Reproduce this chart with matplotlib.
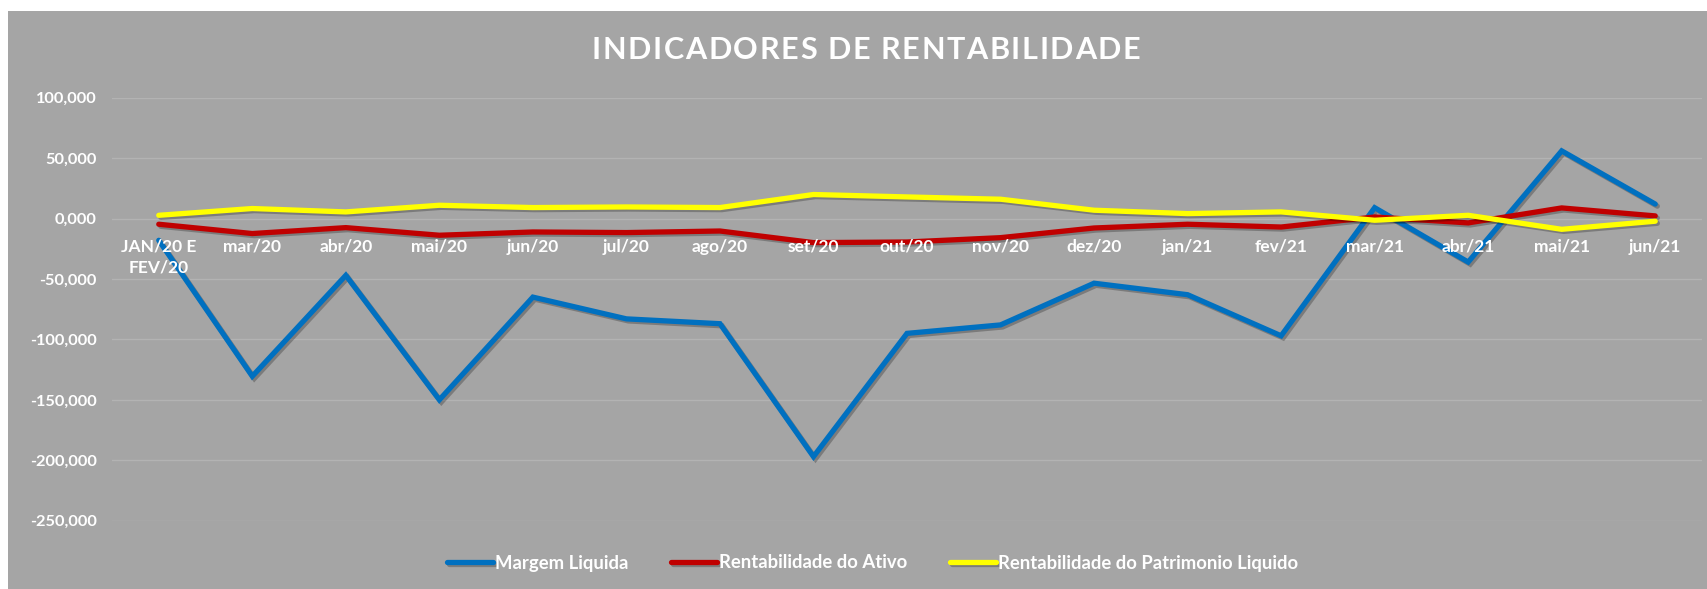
import matplotlib
matplotlib.use("Agg")
import matplotlib.pyplot as plt
import matplotlib.patheffects as pe
from matplotlib.patches import Rectangle
from matplotlib.ticker import FuncFormatter
from matplotlib.font_manager import FontProperties, findfont
from matplotlib.ft2font import FT2Font

meses = ["JAN/20 E\nFEV/20", "mar/20", "abr/20", "mai/20", "jun/20", "jul/20", "ago/20",
         "set/20", "out/20", "nov/20", "dez/20", "jan/21", "fev/21", "mar/21", "abr/21",
         "mai/21", "jun/21"]

margem_liquida = [-18000, -130500, -47000, -150000, -65000, -83000, -87000, -197000,
                  -95000, -88000, -53500, -63000, -97000, 9000, -36000, 56000, 12000]
rent_ativo = [-4700, -12400, -7500, -13800, -11100, -11600, -10300, -19900, -19400,
              -15800, -7800, -4700, -7000, 1300, -3600, 8800, 2200]
rent_pl = [2700, 8300, 5500, 11000, 9100, 9600, 9100, 19900, 17900, 16000, 6900,
           4100, 5500, -1400, 2700, -8900, -2200]

series = [
    ("Margem Liquida", margem_liquida, "#0070C0"),
    ("Rentabilidade do Ativo", rent_ativo, "#C00000"),
    ("Rentabilidade do Patrimonio Liquido", rent_pl, "#FFFF00"),
]

BG = "#A5A5A5"
FONT = "Lato"
W, H = 1707, 589

plt.rcParams["font.family"] = FONT
plt.rcParams["font.weight"] = "bold"
plt.rcParams["text.color"] = "white"

fig = plt.figure(figsize=(W / 100, H / 100), dpi=100, facecolor="white")
fig.patches.append(Rectangle((8 / W, 0), 1 - 8 / W, 1 - 11 / H, transform=fig.transFigure,
                             facecolor=BG, edgecolor="none", zorder=-5))

ax = fig.add_axes([112 / W, 1 - 520.7 / H, (1702 - 112) / W, (520.7 - 97.7) / H])
ax.set_facecolor("none")

x = list(range(len(meses)))
shadow = [pe.SimpleLineShadow(offset=(1.5, -1.5), shadow_color="black", alpha=0.25), pe.Normal()]
for nome, vals, cor in series:
    ax.plot(x, vals, color=cor, lw=3.8, label=nome, solid_capstyle="round",
            solid_joinstyle="miter", path_effects=shadow, zorder=3)

ax.set_xlim(-0.5, len(meses) - 0.5)
ax.set_ylim(-250000, 100000)
ax.set_yticks(range(-250000, 100001, 50000))
ax.yaxis.set_major_formatter(FuncFormatter(lambda v, p: f"{v / 1000:,.3f}".replace(".", ",")))
ax.grid(axis="y", color="#B3B3B3", lw=1, zorder=1)
ax.set_axisbelow(True)
for s in ax.spines.values():
    s.set_visible(False)
ax.tick_params(axis="y", length=0, pad=11, labelcolor="white", labelsize=11.8)
ax.set_xticks([])

# category labels sit just under the zero line, like Excel does it
for i, m in enumerate(meses):
    ax.annotate(m, (i, 0), xytext=(0, -14.5), textcoords="offset points", ha="center", va="top",
                color="white", fontsize=12.5, fontweight="bold", linespacing=1.35, zorder=4)

# title with letter spacing (matplotlib has no tracking option, so place char by char)
titulo = "INDICADORES DE RENTABILIDADE"
tsize = 22
ft = FT2Font(findfont(FontProperties(family=FONT, weight="bold")))
ft.set_size(tsize, 100)
adv = [ft.load_char(ord(c)).linearHoriAdvance / 65536 for c in titulo]
track = (548 - sum(adv)) / (len(titulo) - 1)
px = 866 - 548 / 2
for c, a in zip(titulo, adv):
    if c != " ":
        fig.text((px + a / 2) / W, 1 - 50 / H, c, ha="center", va="center", color="white",
                 fontsize=tsize, fontweight="bold")
    px += a + track

fig.legend(loc="center", bbox_to_anchor=(0.511, 1 - 563 / H), ncol=3, frameon=False,
           handlelength=2.5, handletextpad=0.1, columnspacing=2.3,
           prop={"weight": "bold", "size": 13.3}, labelcolor="white")

fig.savefig("out.png", dpi=100, facecolor="white")
